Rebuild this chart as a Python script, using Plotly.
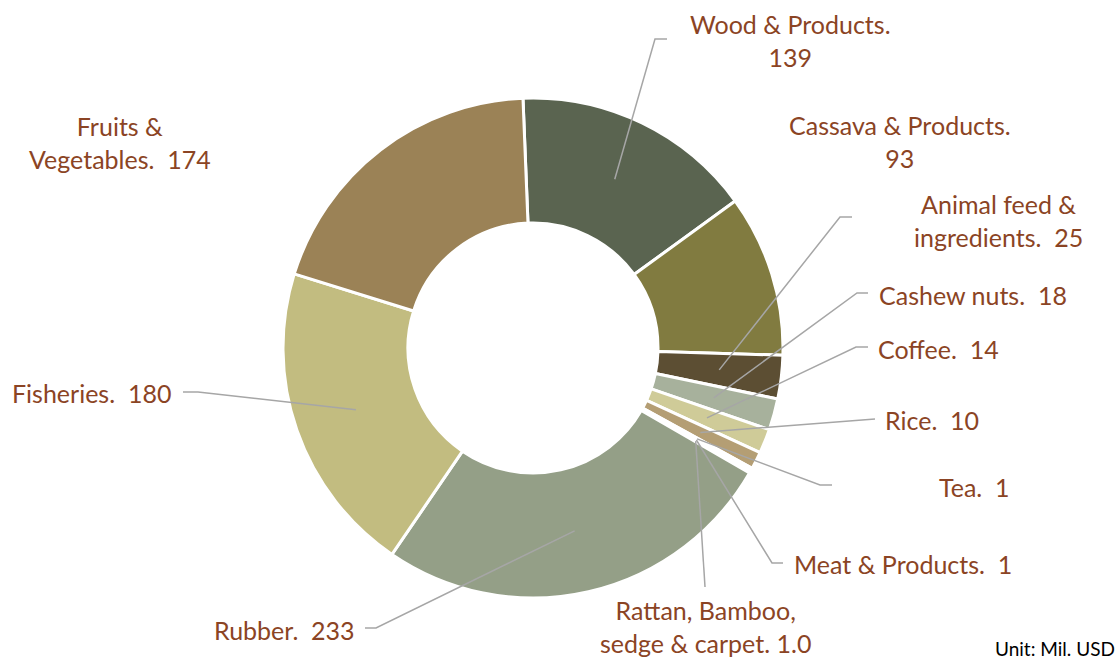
import math
import plotly.graph_objects as go

# ---- data ----
categories = ["Wood & Products", "Cassava & Products", "Animal feed & ingredients",
              "Cashew nuts", "Coffee", "Rice", "Tea", "Meat & Products",
              "Rattan, Bamboo, sedge & carpet", "Rubber", "Fisheries", "Fruits & Vegetables"]
values = [139, 93, 25, 18, 14, 10, 1, 1, 1.0, 233, 180, 174]
label_texts = ["Wood & Products.<br>139", "Cassava & Products.<br>93",
               "Animal feed &<br>ingredients.  25", "Cashew nuts.  18", "Coffee.  14",
               "Rice.  10", "Tea.  1", "Meat & Products.  1",
               "Rattan, Bamboo,<br>sedge & carpet. 1.0", "Rubber.  233",
               "Fisheries.  180", "Fruits &<br>Vegetables.  174"]
unit_text = "Unit: Mil. USD"

# ---- style ----
colors = ["#5a6450", "#817b40", "#5c4e33", "#a7b19c", "#cfcb98", "#b49e74",
          "#b49e74", "#b49e74", "#b49e74", "#949f87", "#c2bc80", "#9b8256"]
W, H = 1120, 659
CX, CY, R = 533, 348, 250
HOLE = 0.5
ROT = -2.3
TXT = "#8B4424"
LINE = "#a6a6a6"
FONT = "Lato"
FS = 25

# label placement (pixel) : x, y, xanchor, elbow point list (pixel) or None
label_pos = [
    (790, 40, "center", [(655, 39), (667, 39)]),
    (900, 141, "center", None),
    (998, 220, "center", [(840, 217), (852, 217)]),
    (877, 295, "left", [(857, 293), (868, 293)]),
    (876, 349, "left", [(856, 347), (868, 347)]),
    (883, 420, "left", [(875, 419)]),
    (937, 487, "left", [(820, 485), (832, 485)]),
    (792, 564, "left", [(772, 563), (783, 563)]),
    (705, 626, "center", [(705, 587)]),
    (357, 630, "right", [(376, 628), (365, 628)]),
    (173, 393, "right", [(198, 392), (183, 392)]),
    (120, 142, "center", None),
]

def px(x):
    return x / W

def py(y):
    return 1 - y / H

fig = go.Figure(go.Pie(
    labels=categories, values=values, hole=HOLE, sort=False,
    direction="clockwise", rotation=ROT,
    marker=dict(colors=colors, line=dict(color="white", width=3)),
    textinfo="none", hoverinfo="label+value",
    domain=dict(x=[px(CX - R), px(CX + R)], y=[py(CY + R), py(CY - R)]),
    showlegend=False,
))

total = sum(values)
rm = R * (1 + HOLE) / 2
cum = 0.0
annotations = []
shapes = []
for v, txt, (lx, ly, xa, elbow) in zip(values, label_texts, label_pos):
    ang = math.radians(ROT + 360 * (cum + v / 2) / total)
    cum += v
    ax_ = CX + rm * math.sin(ang)
    ay_ = CY - rm * math.cos(ang)
    annotations.append(dict(
        x=px(lx), y=py(ly), xref="paper", yref="paper", text=txt, showarrow=False,
        xanchor=xa, yanchor="middle", align="center",
        font=dict(family=FONT, size=FS, color=TXT)))
    if elbow:
        pts = [(ax_, ay_)] + elbow
        path = "M " + " L ".join(f"{px(x)},{py(y)}" for x, y in pts)
        shapes.append(dict(type="path", path=path, xref="paper", yref="paper",
                           line=dict(color=LINE, width=1.5)))

annotations.append(dict(x=px(1117), y=py(648), xref="paper", yref="paper",
                        text=unit_text, showarrow=False, xanchor="right", yanchor="middle",
                        font=dict(family=FONT, size=19, color="#000000")))

fig.update_layout(width=W, height=H, margin=dict(l=0, r=0, t=0, b=0),
                  paper_bgcolor="white", plot_bgcolor="white",
                  annotations=annotations, shapes=shapes)
fig.write_html("out.html", config={"displayModeBar": False},
               post_script="document.body.style.margin='0';document.body.style.overflow='hidden';")
